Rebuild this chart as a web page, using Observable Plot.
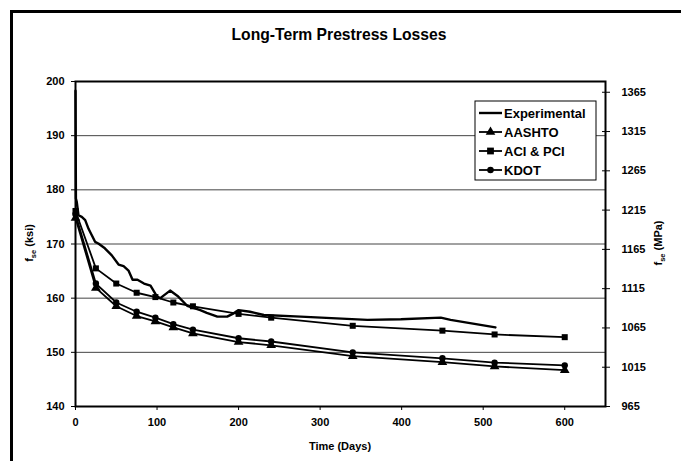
<!DOCTYPE html>
<html><head><meta charset="utf-8">
<script src="https://cdn.jsdelivr.net/npm/d3@7"></script>
<script src="https://cdn.jsdelivr.net/npm/@observablehq/plot@0.6"></script>
<style>
body{margin:0;background:#fff}
svg{font-family:"Liberation Sans",Arial,sans-serif}
</style>
</head><body><div id="chart"></div>
<script>
// Experimental measured curve (days, ksi)
const expDays = [0, 0.5, 1.5, 3.7, 7.7, 11.9, 16, 20, 24, 28, 36, 44.5, 52.8, 59, 65, 70, 76, 84, 92, 100, 104, 116, 126, 137, 153, 161, 174, 186, 194, 200, 214, 231, 276, 358, 399, 448, 460, 515];
const expKsi  = [198.3, 178.4, 177.8, 175.3, 175.0, 174.4, 172.8, 171.6, 170.4, 170.1, 169.2, 167.9, 166.2, 165.9, 165.1, 163.4, 163.4, 162.7, 162.3, 160.3, 160.0, 161.4, 160.3, 158.6, 157.8, 157.3, 156.6, 156.6, 157.2, 157.8, 157.5, 156.9, 156.6, 156.0, 156.1, 156.4, 156.0, 154.6];
// Predicted curves
const modelDays = [0, 25, 50, 75, 98, 120, 144, 200, 240, 340, 450, 514, 600];
const aashto = [174.8, 161.9, 158.5, 156.7, 155.7, 154.6, 153.5, 151.9, 151.3, 149.3, 148.2, 147.4, 146.7];
const aciPci = [176.1, 165.5, 162.7, 161.0, 160.2, 159.2, 158.5, 157.1, 156.4, 154.9, 154.0, 153.3, 152.8];
const kdot   = [175.5, 162.7, 159.2, 157.5, 156.4, 155.2, 154.2, 152.6, 152.0, 150.0, 148.9, 148.1, 147.6];
// Tick labels
const xTicks = [0, 100, 200, 300, 400, 500, 600];
const ksiTicks = [140, 150, 160, 170, 180, 190, 200];
const gridTicks = [150, 160, 170, 180, 190];
const mpaTicks = [965, 1015, 1065, 1115, 1165, 1215, 1265, 1315, 1365];
const seriesNames = ["Experimental", "AASHTO", "ACI & PCI", "KDOT"];

const mpaToKsi = m => 140 + (m - 965) / 6.895;
const ksiToMpa = k => String(Math.round(965 + (k - 140) * 6.895));

const expData = expDays.map((d, i) => ({day: d, ksi: expKsi[i]}));
const mk = arr => modelDays.map((d, i) => ({day: d, ksi: arr[i]}));
const aData = mk(aashto), cData = mk(aciPci), kData = mk(kdot);

const font = '"Liberation Sans",Arial,sans-serif';
const plot = Plot.plot({
  width: 681, height: 461,
  marginLeft: 75, marginRight: 76, marginTop: 81, marginBottom: 55,
  x: {domain: [0, 650]},
  y: {domain: [140, 200]},
  style: {fontFamily: font, fontSize: "11px", fontWeight: "bold", color: "#000", background: "#fff"},
  marks: [
    Plot.ruleY(gridTicks, {stroke: "#444", strokeWidth: 1}),
    Plot.axisX({ticks: xTicks, tickSize: 4, tickPadding: 8, label: null, stroke: "#000"}),
    Plot.axisY({ticks: ksiTicks, tickSize: 4, tickPadding: 7, label: null}),
    Plot.axisY({anchor: "right", ticks: mpaTicks.map(mpaToKsi), tickFormat: ksiToMpa, tickSize: 8, dx: -4, tickPadding: 12, label: null}),
    Plot.line(kData, {x: "day", y: "ksi", stroke: "#000", strokeWidth: 1.8}),
    Plot.dot(kData, {x: "day", y: "ksi", symbol: "circle", r: 3.2, fill: "#000"}),
    Plot.line(aData, {x: "day", y: "ksi", stroke: "#000", strokeWidth: 1.8}),
    Plot.dot(aData, {x: "day", y: "ksi", symbol: "triangle", r: 3.6, fill: "#000"}),
    Plot.line(cData, {x: "day", y: "ksi", stroke: "#000", strokeWidth: 1.8}),
    Plot.dot(cData, {x: "day", y: "ksi", symbol: "square", r: 3.4, fill: "#000"}),
    Plot.line(expData, {x: "day", y: "ksi", stroke: "#000", strokeWidth: 2.4, strokeLinejoin: "round"}),
    Plot.frame({stroke: "#000", strokeWidth: 2})
  ]
});
document.getElementById("chart").appendChild(plot);

const svg = d3.select(plot);
// outer chart border
svg.append("rect").attr("x", 11.5).attr("y", 11.5).attr("width", 700).attr("height", 480)
  .attr("fill", "none").attr("stroke", "#000").attr("stroke-width", 3);
// title
svg.append("text").attr("x", 339).attr("y", 40).attr("text-anchor", "middle")
  .attr("font-size", 15.7).attr("font-weight", "bold").attr("fill", "#000").text("Long-Term Prestress Losses");
// x label
svg.append("text").attr("x", 340).attr("y", 450).attr("text-anchor", "middle")
  .attr("font-size", 11).attr("font-weight", "bold").text("Time (Days)");
// y labels with subscript
function yLabel(x, unit) {
  const t = svg.append("text").attr("transform", `translate(${x},243) rotate(-90)`)
    .attr("text-anchor", "middle").attr("font-size", 11).attr("font-weight", "bold");
  t.append("tspan").text("f");
  t.append("tspan").attr("font-size", 7.5).attr("dy", 3).text("se");
  t.append("tspan").attr("dy", -3).text(" " + unit);
}
yLabel(33, "(ksi)");
yLabel(662, "(MPa)");
// legend
const lg = svg.append("g").attr("transform", "translate(475,101)");
lg.append("rect").attr("width", 121).attr("height", 79).attr("fill", "#fff").attr("stroke", "#000").attr("stroke-width", 1);
const sym = [null, d3.symbolTriangle, d3.symbolSquare, d3.symbolCircle];
const sizes = [0, 40, 46, 34];
seriesNames.forEach((name, i) => {
  const yy = 12 + i * 19;
  lg.append("line").attr("x1", 4).attr("x2", 27).attr("y1", yy).attr("y2", yy)
    .attr("stroke", "#000").attr("stroke-width", i === 0 ? 2.4 : 1.8);
  if (sym[i]) lg.append("path").attr("transform", `translate(15.5,${yy})`)
    .attr("d", d3.symbol(sym[i], sizes[i])()).attr("fill", "#000");
  lg.append("text").attr("x", 29).attr("y", yy + 4.5).attr("text-anchor", "start")
    .attr("font-size", 13).attr("font-weight", "bold").text(name);
});
</script>
</body></html>
